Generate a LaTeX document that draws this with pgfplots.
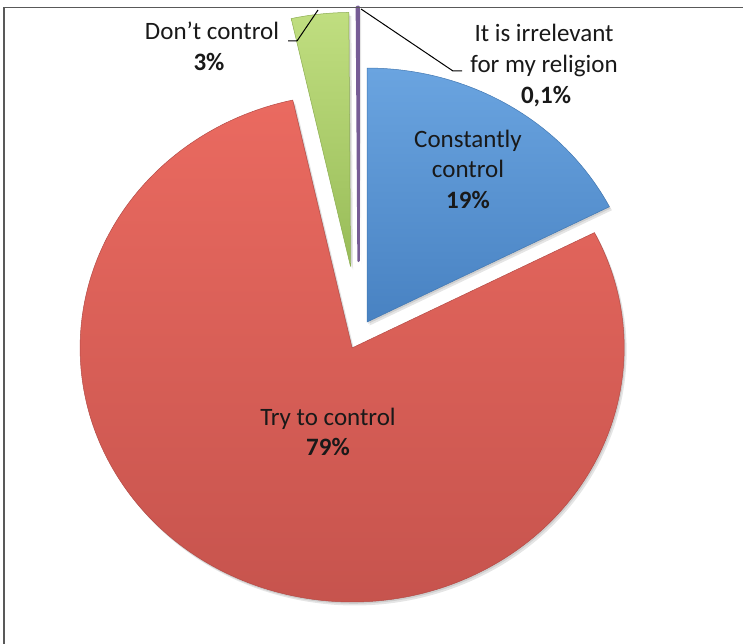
\documentclass[border=0pt]{standalone}
\usepackage{pgfplots}
\pgfplotsset{compat=1.18}
\usepackage{pgfplotstable}
\usepackage{fontspec}
\setmainfont{Carlito}
\definecolor{blueT}{RGB}{106,164,224}
\definecolor{blueB}{RGB}{72,130,194}
\definecolor{redT}{RGB}{234,106,96}
\definecolor{redB}{RGB}{196,82,76}
\definecolor{greenT}{RGB}{192,222,128}
\definecolor{greenB}{RGB}{152,188,88}
\definecolor{purpleT}{RGB}{150,120,190}
\definecolor{purpleB}{RGB}{128,100,162}

% values in percent (angles), explosion (fraction of radius), colour, outline width
\pgfplotstableread{
name value explode col lw
Constantly 17.5 0.058 blue 0.5
Try 79.0 0.058 red 0.5
Dont 3.4 0.27 green 0.5
Irrelevant 0.1 0.29 purple 2.4
}\piedata

\begin{document}
\begin{tikzpicture}
\path[use as bounding box] (0,0) rectangle (743pt,-644pt);
\begin{axis}[at={(0,0)}, anchor=north west,
  width=743pt, height=644pt, scale only axis,
  hide axis, clip=false, enlargelimits=false,
  xmin=-1.31912, xmax=1.41250, ymin=-1.21811, ymax=1.31732]
\pgfplotsextra{
  % shadows
  \gdef\cum{0}
  \foreach \i in {0,...,3}{
    \pgfplotstablegetelem{\i}{value}\of\piedata \let\val\pgfplotsretval
    \pgfplotstablegetelem{\i}{explode}\of\piedata \let\ex\pgfplotsretval
    \pgfmathsetmacro\aone{\cum*3.6}
    \pgfmathsetmacro\atwo{(\cum+\val)*3.6}
    \pgfmathsetmacro\amid{(\aone+\atwo)/2}
    \pgfmathsetmacro\cx{\ex*sin(\amid)}
    \pgfmathsetmacro\cy{\ex*cos(\amid)}
    \pgfmathsetmacro\px{\cx+sin(\aone)}
    \pgfmathsetmacro\py{\cy+cos(\aone)}
    \pgfmathsetmacro\sa{90-\aone}
    \pgfmathsetmacro\ea{90-\atwo}
    \fill[black, opacity=0.10, shift={(2.5pt,-3.5pt)}] (axis cs:\cx,\cy) -- (axis cs:\px,\py)
      arc[start angle=\sa, end angle=\ea, x radius=272pt, y radius=254pt] -- cycle;
    \fill[black, opacity=0.10, shift={(1.2pt,-1.8pt)}] (axis cs:\cx,\cy) -- (axis cs:\px,\py)
      arc[start angle=\sa, end angle=\ea, x radius=272pt, y radius=254pt] -- cycle;
    \pgfmathsetmacro\newcum{\cum+\val}
    \xdef\cum{\newcum}
  }
  % slices
  \gdef\cum{0}
  \foreach \i in {0,...,3}{
    \pgfplotstablegetelem{\i}{value}\of\piedata \let\val\pgfplotsretval
    \pgfplotstablegetelem{\i}{explode}\of\piedata \let\ex\pgfplotsretval
    \pgfplotstablegetelem{\i}{col}\of\piedata \let\col\pgfplotsretval
    \pgfplotstablegetelem{\i}{lw}\of\piedata \let\lw\pgfplotsretval
    \pgfmathsetmacro\aone{\cum*3.6}
    \pgfmathsetmacro\atwo{(\cum+\val)*3.6}
    \pgfmathsetmacro\amid{(\aone+\atwo)/2}
    \pgfmathsetmacro\cx{\ex*sin(\amid)}
    \pgfmathsetmacro\cy{\ex*cos(\amid)}
    \pgfmathsetmacro\px{\cx+sin(\aone)}
    \pgfmathsetmacro\py{\cy+cos(\aone)}
    \pgfmathsetmacro\sa{90-\aone}
    \pgfmathsetmacro\ea{90-\atwo}
    \shade[top color=\col T, bottom color=\col B, draw=\col B!92!black, line width=\lw pt, line join=round]
      (axis cs:\cx,\cy) -- (axis cs:\px,\py)
      arc[start angle=\sa, end angle=\ea, x radius=272pt, y radius=254pt] -- cycle;
    \pgfmathsetmacro\newcum{\cum+\val}
    \xdef\cum{\newcum}
  }
}
\end{axis}
\begin{scope}[x=1pt, y=-1pt, every node/.style={anchor=base, inner sep=0pt, font=\fontsize{25}{30}\selectfont, text=black!90}]
  % frame
  \draw[gray!70!black, line width=1.6pt] (4,644) -- (4,7.5) -- (743,7.5);
  % leader lines
  \draw[black, line width=1pt] (288,41) -- (297,41) -- (318,10);
  \draw[black, line width=1pt] (361,9) -- (453,71) -- (462,71);
  % labels
  \node at (468,148) {Constantly};
  \node at (468,178) {control};
  \node at (468,209) {\bfseries 19\%};
  \node at (328,425) {Try to control};
  \node at (328,455) {\bfseries 79\%};
  \node at (212,40) {Don’t control};
  \node at (209,71) {\bfseries 3\%};
  \node at (544,42) {It is irrelevant};
  \node at (544,73) {for my religion};
  \node at (546,104) {\bfseries 0,1\%};
\end{scope}
\end{tikzpicture}
\end{document}
